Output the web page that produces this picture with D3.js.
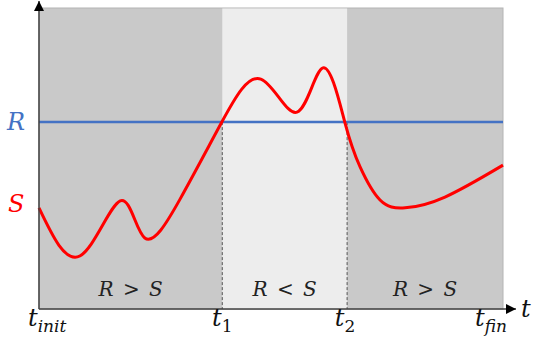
<!DOCTYPE html>
<html>
<head>
<meta charset="utf-8">
<script src="https://cdn.jsdelivr.net/npm/d3@7"></script>
<style>
  body { margin: 0; background: #fff; }
  text { font-family: "DejaVu Serif", "Liberation Serif", serif; font-style: italic; }
</style>
</head>
<body>
<div id="chart"></div>
<script>
// time marks on the horizontal axis
const tValues = [0, 39.5, 66.4, 100];
const tSubs = ['init', '1', '2', 'fin'];

// regions between the marks
const regionLabels = ['R > S', 'R < S', 'R > S'];

// R level (constant)
const rLevel = 62.1;

// S curve
const sTime = [0, 8.8, 17.5, 22.8, 30.4, 39.4, 47.8, 55.6, 61.2, 65.9, 69.2, 73.5, 78.9, 87.5, 100];
const sValue = [33.6, 17.6, 35.9, 23.6, 36.5, 62.1, 76.4, 65.4, 80.1, 62.1, 47.2, 36.2, 33.6, 37.2, 47.8];

const W = 533, H = 349;
const margin = {left: 39, right: 503, top: 8, bottom: 309};

const svg = d3.select('#chart').append('svg')
  .attr('width', W)
  .attr('height', H);

const x = d3.scaleLinear().domain([0, 100]).range([margin.left, margin.right]);
const y = d3.scaleLinear().domain([0, 100]).range([margin.bottom, margin.top]);

// background box
svg.append('rect')
  .attr('x', x(0)).attr('y', y(100))
  .attr('width', x(100) - x(0)).attr('height', y(0) - y(100))
  .attr('fill', '#c9c9c9')
  .attr('stroke', '#b4b4b4')
  .attr('stroke-width', 1);

// middle region where R < S
svg.append('rect')
  .attr('x', x(tValues[1])).attr('y', y(100) + 0.5)
  .attr('width', x(tValues[2]) - x(tValues[1])).attr('height', y(0) - y(100) - 0.5)
  .attr('fill', '#ededed');

// dashed guides
svg.selectAll('.guide')
  .data([tValues[1], tValues[2]])
  .enter().append('line')
  .attr('x1', d => x(d)).attr('x2', d => x(d))
  .attr('y1', y(rLevel)).attr('y2', y(0))
  .attr('stroke', '#555')
  .attr('stroke-width', 1)
  .attr('stroke-dasharray', '3,2');

// R line
svg.append('line')
  .attr('x1', x(0)).attr('x2', x(100))
  .attr('y1', y(rLevel)).attr('y2', y(rLevel))
  .attr('stroke', '#4472c4')
  .attr('stroke-width', 2.5);

// S curve
const sData = sTime.map((t, i) => [t, sValue[i]]);
const line = d3.line()
  .x(d => x(d[0]))
  .y(d => y(d[1]))
  .curve(d3.curveNatural);

svg.append('path')
  .datum(sData)
  .attr('d', line)
  .attr('fill', 'none')
  .attr('stroke', '#ff0000')
  .attr('stroke-width', 3)
  .attr('stroke-linejoin', 'round');

// axes with arrows
svg.append('defs').append('marker')
  .attr('id', 'arrow')
  .attr('viewBox', '0 0 10 10')
  .attr('refX', 10).attr('refY', 5)
  .attr('markerWidth', 10).attr('markerHeight', 10)
  .attr('markerUnits', 'userSpaceOnUse')
  .attr('orient', 'auto')
  .append('path')
  .attr('d', 'M0,0 L10,5 L0,10 Z')
  .attr('fill', '#000');

svg.append('line')
  .attr('x1', x(0)).attr('y1', y(0))
  .attr('x2', x(0)).attr('y2', 1)
  .attr('stroke', '#404040').attr('stroke-width', 1.5)
  .attr('marker-end', 'url(#arrow)');

svg.append('line')
  .attr('x1', x(0)).attr('y1', y(0))
  .attr('x2', 516).attr('y2', y(0))
  .attr('stroke', '#404040').attr('stroke-width', 1.5)
  .attr('marker-end', 'url(#arrow)');

// region labels
const mids = regionLabels.map((d, i) => (tValues[i] + tValues[i + 1]) / 2);
svg.selectAll('.region')
  .data(regionLabels)
  .enter().append('text')
  .attr('x', (d, i) => x(mids[i]))
  .attr('y', y(0) - 13)
  .attr('text-anchor', 'middle')
  .attr('font-size', 20)
  .attr('word-spacing', 3)
  .attr('fill', '#222')
  .text(d => d);

// t labels
const anchors = ['start', 'middle', 'middle', 'end'];
const offs = [-11, 0, -2, 4];
const tl = svg.selectAll('.tlab')
  .data(tValues)
  .enter().append('text')
  .attr('x', (d, i) => x(d) + offs[i])
  .attr('y', 326)
  .attr('text-anchor', (d, i) => anchors[i])
  .attr('fill', '#111')
  .attr('font-size', 24);
tl.append('tspan').text('t');
tl.append('tspan')
  .attr('font-size', 17)
  .attr('dy', 6)
  .style('font-style', (d, i) => i === 1 || i === 2 ? 'normal' : 'italic')
  .text((d, i) => tSubs[i]);

svg.append('text')
  .attr('x', 521).attr('y', 317)
  .attr('font-size', 24)
  .attr('fill', '#111')
  .text('t');

// R and S labels
svg.append('text')
  .attr('x', 7).attr('y', y(rLevel) + 8)
  .attr('font-size', 24)
  .attr('fill', '#4472c4')
  .text('R');

svg.append('text')
  .attr('x', 8).attr('y', 212)
  .attr('font-size', 24)
  .attr('fill', '#ff0000')
  .text('S');
</script>
</body>
</html>
